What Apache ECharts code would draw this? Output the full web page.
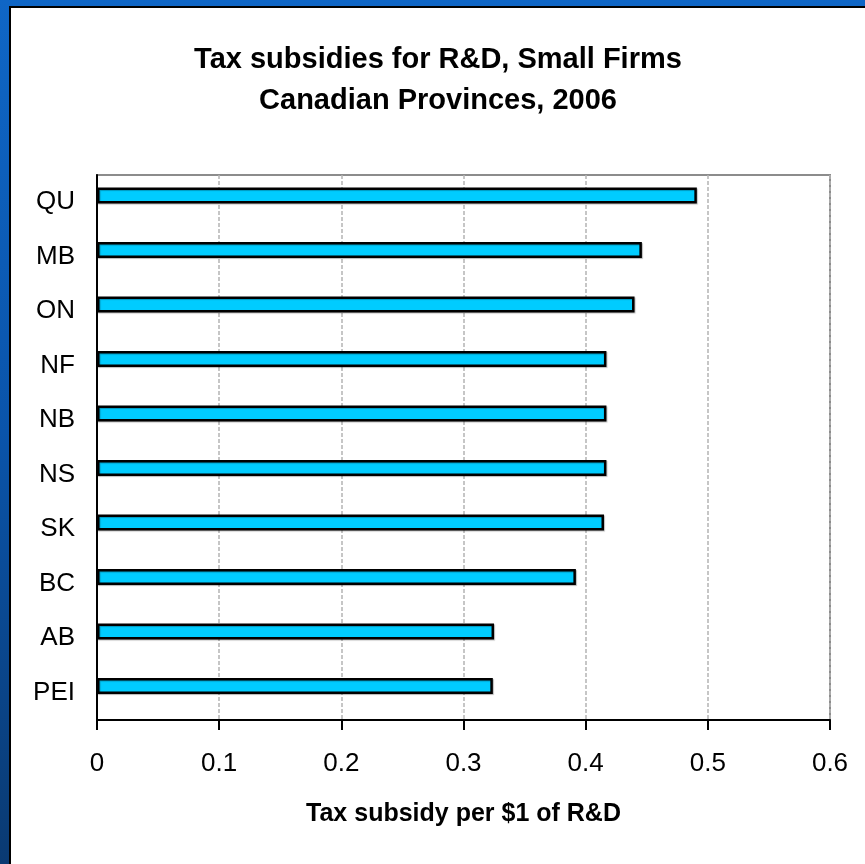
<!DOCTYPE html>
<html>
<head>
<meta charset="utf-8">
<script src="https://cdn.jsdelivr.net/npm/echarts@6/dist/echarts.min.js"></script>
<style>html,body{margin:0;padding:0;background:#0b55ab;}#c{width:865px;height:864px;}</style>
</head>
<body>
<div id="c"></div>
<script>
// Data (top to bottom as shown)
var provinces = ['QU', 'MB', 'ON', 'NF', 'NB', 'NS', 'SK', 'BC', 'AB', 'PEI'];
var subsidy = [0.491, 0.446, 0.440, 0.417, 0.417, 0.417, 0.415, 0.392, 0.325, 0.324];
var emptySlot = [null, null, null, null, null, null, null, null, null, null];
var xTicks = [0, 0.1, 0.2, 0.3, 0.4, 0.5, 0.6];
var titleText = 'Tax subsidies for R&D, Small Firms\nCanadian Provinces, 2006';
var xAxisTitle = 'Tax subsidy per $1 of R&D';

var FONT = '"Liberation Sans", Arial, sans-serif';
var chart = echarts.init(document.getElementById('c'), null, {renderer: 'canvas'});
chart.setOption({
  animation: false,
  backgroundColor: {
    type: 'linear', x: 0, y: 0, x2: 0, y2: 1,
    colorStops: [{offset: 0, color: '#0f66c6'}, {offset: 0.5, color: '#0a54aa'}, {offset: 1, color: '#0a3a72'}]
  },
  graphic: [{
    type: 'rect', z: -100, silent: true,
    shape: {x: 10, y: 7, width: 870, height: 870},
    style: {fill: '#ffffff', stroke: '#000000', lineWidth: 2}
  }],
  title: {
    text: titleText,
    left: 438, top: 39, padding: 0,
    textAlign: 'center',
    textStyle: {fontFamily: FONT, fontSize: 29, fontWeight: 'bold', color: '#000', lineHeight: 41}
  },
  grid: {
    left: 97, right: 35, top: 175, bottom: 144,
    show: true, borderColor: '#8c8c8c', borderWidth: 2, backgroundColor: 'transparent',
    containLabel: false
  },
  xAxis: {
    type: 'value', min: 0, max: 0.6, interval: 0.1,
    name: xAxisTitle, nameLocation: 'middle', nameGap: 82,
    nameTextStyle: {fontFamily: FONT, fontSize: 25, fontWeight: 'bold', color: '#000'},
    axisLine: {show: true, lineStyle: {color: '#000', width: 2}},
    axisTick: {show: true, length: 10, lineStyle: {color: '#000', width: 2}},
    axisLabel: {
      margin: 31, fontFamily: FONT, fontSize: 26, color: '#000',
      formatter: function (v) { var i = xTicks.indexOf(+v.toFixed(1)); return i >= 0 ? String(xTicks[i]) : ''; }
    },
    splitLine: {show: true, lineStyle: {color: '#b4b4b4', width: 1.5, type: [4, 2]}}
  },
  yAxis: {
    type: 'category', data: provinces, inverse: true,
    axisLine: {show: true, lineStyle: {color: '#000', width: 2}},
    axisTick: {show: false},
    axisLabel: {margin: 22, fontFamily: FONT, fontSize: 26, color: '#000'},
    splitLine: {show: false}
  },
  series: [{
    name: 'Tax subsidy', type: 'bar', data: subsidy,
    barWidth: 16, barGap: '-15%',
    itemStyle: {color: '#00ccff', borderColor: '#000', borderWidth: 2.5,
      shadowColor: 'rgba(0,0,0,0.25)', shadowBlur: 1, shadowOffsetX: 1, shadowOffsetY: 1}
  }, {
    name: 'slot', type: 'bar', data: emptySlot, barWidth: 16, silent: true
  }]
});
</script>
</body>
</html>
